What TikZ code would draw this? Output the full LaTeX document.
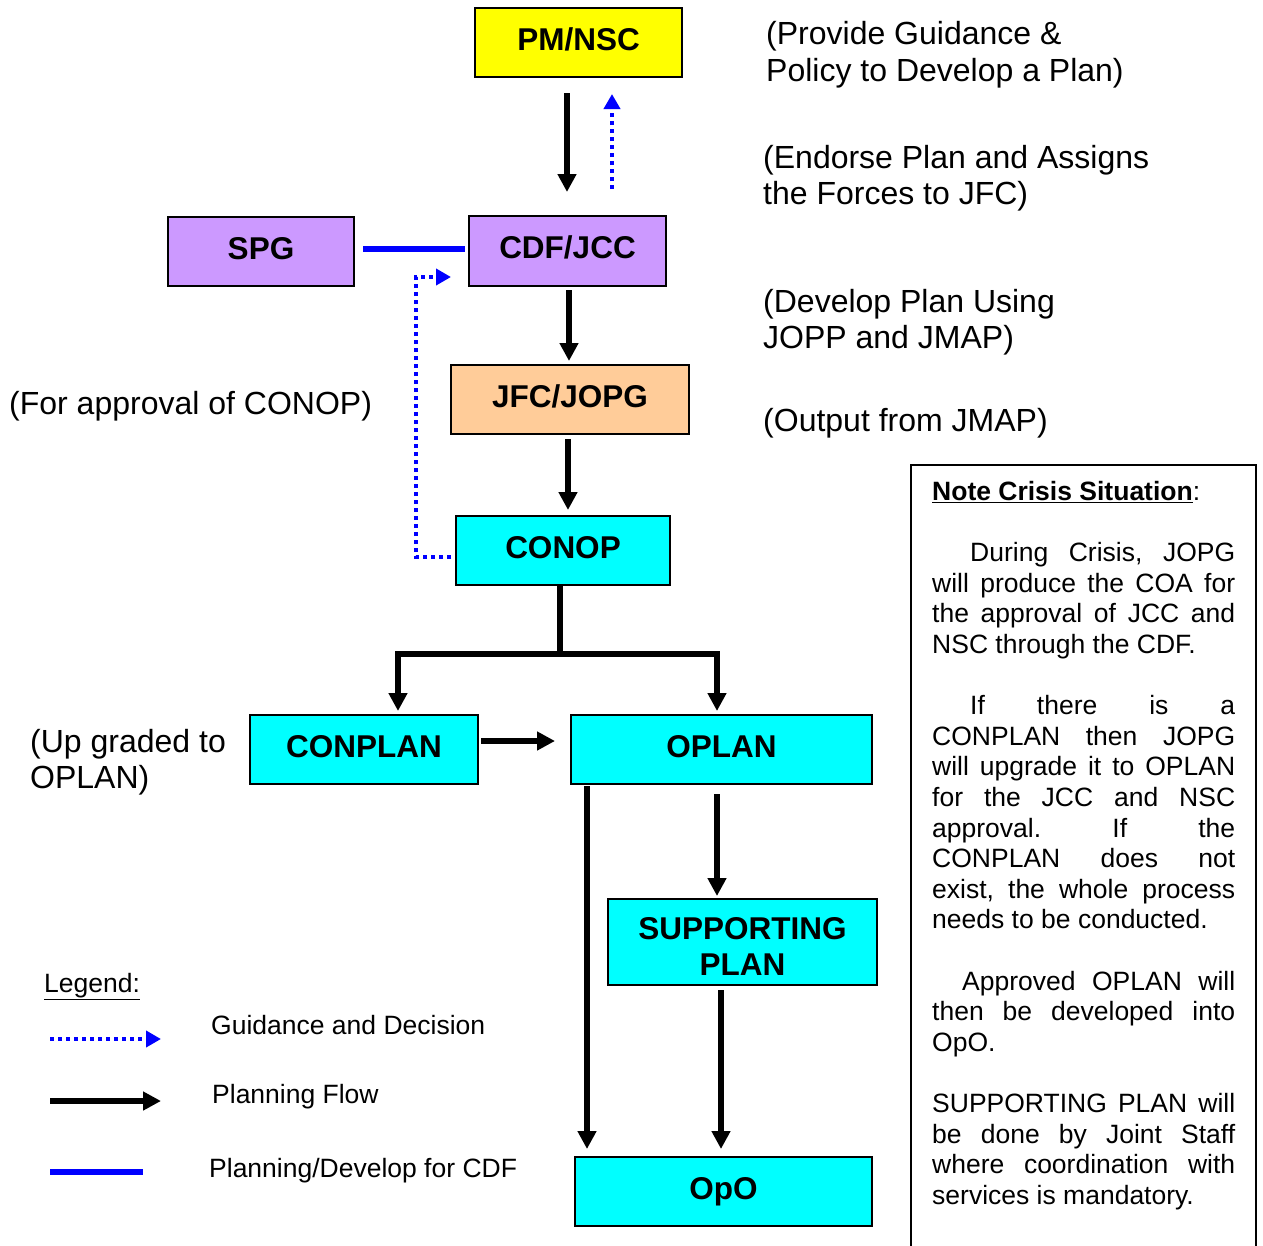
\documentclass[tikz,border=0pt]{standalone}
\usepackage{fontspec}
\setmainfont{Liberation Sans}
\usetikzlibrary{arrows.meta}
\definecolor{boxyellow}{HTML}{FFFF00}
\definecolor{boxpurple}{HTML}{CC99FF}
\definecolor{boxpeach}{HTML}{FFCC99}
\definecolor{boxcyan}{HTML}{00FFFF}
\definecolor{lineblue}{HTML}{0000FF}
\newcommand{\jline}[1]{\makebox[\linewidth][s]{#1}\par}
\newcommand{\nline}[1]{#1\par}
\begin{document}
\begin{tikzpicture}[x=1pt,y=-1pt,
  stage/.style={draw, line width=2pt, inner sep=0pt,
    font=\bfseries\fontsize{31.5}{36}\selectfont},
  oneline/.style={stage, text height=23pt, text depth=8pt},
  flow/.style={draw=black, line width=5.5pt, line join=miter,
    -{Triangle[width=18pt,length=18pt]}},
  guide/.style={draw=lineblue, line width=4pt, dash pattern=on 4pt off 4pt,
    -{Triangle[width=16pt,length=15pt]}},
  cdfline/.style={draw=lineblue, line width=5.5pt},
  lbl/.style={anchor=base west, inner sep=0pt, font=\fontsize{32}{37}\selectfont},
  small/.style={anchor=base west, inner sep=0pt, font=\fontsize{26.5}{30.6}\selectfont}]

\fill[white] (0,0) rectangle (1263,1245);
\useasboundingbox (0,0) rectangle (1263,1245);

% planning stages
\node[oneline, fill=boxyellow, minimum width=207pt, minimum height=69pt] (pm) at (578.5,42.5) {PM/NSC};
\node[oneline, fill=boxpurple, minimum width=197pt, minimum height=70pt] (cdf) at (567.5,251) {CDF/JCC};
\node[oneline, fill=boxpurple, minimum width=186pt, minimum height=69pt] (spg) at (261,251.5) {SPG};
\node[oneline, fill=boxpeach, minimum width=238pt, minimum height=69pt] (jfc) at (570,399.5) {JFC/JOPG};
\node[oneline, fill=boxcyan, minimum width=214pt, minimum height=69pt] (conop) at (563,550.5) {CONOP};
\node[oneline, fill=boxcyan, minimum width=228pt, minimum height=69pt] (conplan) at (364,749.5) {CONPLAN};
\node[oneline, fill=boxcyan, minimum width=301pt, minimum height=69pt] (oplan) at (721.5,749.5) {OPLAN};
\node[stage, fill=boxcyan, minimum width=269pt, minimum height=86pt, align=center] (supp) at (742.5,942) {\rule{0pt}{30.6pt}SUPPORTING\\PLAN};
\node[oneline, fill=boxcyan, minimum width=297pt, minimum height=69pt] (opo) at (723.5,1191.5) {OpO};

% connectors
\draw[flow, shorten <=15pt, shorten >=23pt] ([xshift=-11.5pt]pm.south) -- ([xshift=-0.5pt]cdf.north);
\draw[guide, shorten <=26pt, shorten >=16pt] ([xshift=44.5pt]cdf.north) -- ([xshift=33.5pt]pm.south);
\draw[cdfline, shorten <=8pt, shorten >=3pt] ([yshift=2.5pt]spg.east) -- ([yshift=2pt]cdf.west);
\draw[flow, shorten <=3pt, shorten >=3pt] ([xshift=1.5pt]cdf.south) -- ([xshift=-1pt]jfc.north);
\draw[flow, shorten <=4pt, shorten >=5pt] ([xshift=-2pt]jfc.south) -- ([xshift=5pt]conop.north);

\coordinate (split) at (560,654);
\draw[draw=black, line width=5.5pt] ([xshift=-3pt]conop.south) -- ([yshift=-2.75pt]split);
\draw[flow, shorten >=3pt] (split) -| ([xshift=34pt]conplan.north);
\draw[flow, shorten >=3pt] (split) -| ([xshift=-4.5pt]oplan.north);

\draw[flow, shorten <=2pt, shorten >=15pt] ([yshift=8.5pt]conplan.east) -- ([yshift=8.5pt]oplan.west);
\draw[flow, shorten <=9pt, shorten >=2pt] ([xshift=-4.5pt]oplan.south) -- ([xshift=-25.5pt]supp.north);
\draw[flow, shorten <=1pt, shorten >=7pt] ([xshift=-134.5pt]oplan.south) -- ([xshift=-136.5pt]opo.north);
\draw[flow, shorten <=4pt, shorten >=7pt] ([xshift=-21.5pt]supp.south) -- ([xshift=-2.5pt]opo.north);

\coordinate (fbA) at (416,557);
\coordinate (fbB) at (416,277);
\draw[guide, line join=miter, shorten <=4pt, shorten >=17pt] ([yshift=-6.5pt]conop.west) -- (fbA) -- (fbB) -- ([yshift=-26pt]cdf.west);

% side labels
\node[lbl] (t1a) at (766,44) {(Provide Guidance \&};
\node[lbl] (t1b) at (766,81) {Policy to Develop a Plan)};
\node[lbl] (t2a) at (763,168) {(Endorse Plan and Assigns};
\node[lbl] (t2b) at (763,204) {the Forces to JFC)};
\node[lbl] (t3a) at (763,312) {(Develop Plan Using};
\node[lbl] (t3b) at (763,348) {JOPP and JMAP)};
\node[lbl] (t4) at (763,431) {(Output from JMAP)};
\node[lbl] (t5) at (9,414) {(For approval of CONOP)};
\node[lbl] (t6a) at (30,752) {(Up graded to};
\node[lbl] (t6b) at (30,788) {OPLAN)};

% legend
\node[small] (lg) at (44,992.5) {\underline{Legend:}};
\coordinate (lg1a) at (50,1039);
\coordinate (lg1b) at (161,1039);
\coordinate (lg2a) at (50,1101);
\coordinate (lg2b) at (161,1101);
\coordinate (lg3a) at (50,1172);
\coordinate (lg3b) at (143,1172);
\draw[guide] (lg1a) -- (lg1b);
\draw[flow] (lg2a) -- (lg2b);
\draw[cdfline] (lg3a) -- (lg3b);
\node[small] (lgt1) at (211,1034.5) {Guidance and Decision};
\node[small] (lgt2) at (212,1103.5) {Planning Flow};
\node[small] (lgt3) at (209,1177) {Planning/Develop for CDF};

% crisis note
\draw[line width=2.5pt] (911,1260) -- (911,465) -- (1256,465) -- (1256,1260);
\node[small] (note) at (932,500.5) {\parbox[t]{303pt}{\fontsize{26.5}{30.6}\selectfont\frenchspacing
\nline{\underline{\textbf{Note Crisis Situation}}:}\vspace{30.6pt}
\jline{\hspace*{38pt}During Crisis, JOPG}
\jline{will produce the COA for}
\jline{the approval of JCC and}
\nline{NSC through the CDF.}\vspace{30.6pt}
\jline{\hspace*{38pt}If there is a}
\jline{CONPLAN then JOPG}
\jline{will upgrade it to OPLAN}
\jline{for the JCC and NSC}
\jline{approval. If the}
\jline{CONPLAN does not}
\jline{exist, the whole process}
\nline{needs to be conducted.}\vspace{30.6pt}
\jline{\hspace*{30pt}Approved OPLAN will}
\jline{then be developed into}
\nline{OpO.}\vspace{30.6pt}
\jline{SUPPORTING PLAN will}
\jline{be done by Joint Staff}
\jline{where coordination with}
\nline{services is mandatory.}}};
\end{tikzpicture}
\end{document}
